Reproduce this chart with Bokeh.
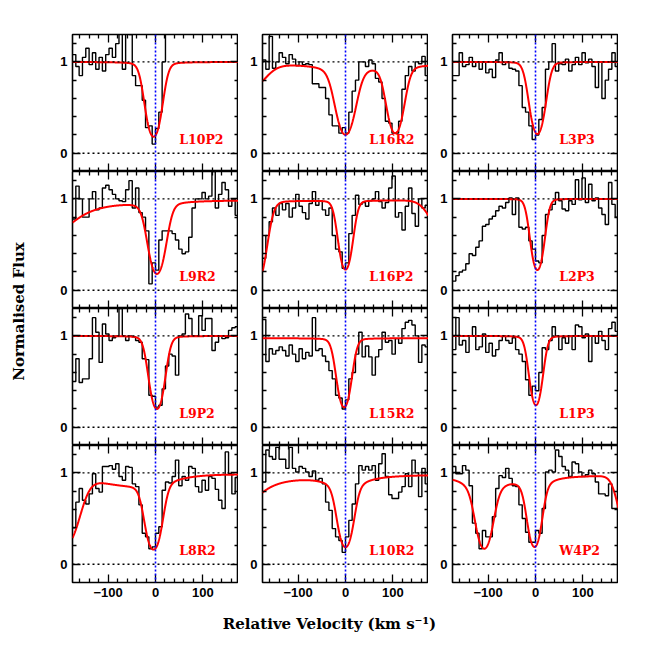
import numpy as np
from bokeh.plotting import figure
from bokeh.models import Range1d, LinearAxis, FixedTicker, Span
from bokeh.layouts import row, column
from bokeh.core.properties import value
from bokeh.embed import file_html
from bokeh.resources import INLINE

# ---------------- data ----------------
PANEL_NAMES = [["L10P2", "L16R2", "L3P3"],
               ["L9R2", "L16P2", "L2P3"],
               ["L9P2", "L15R2", "L1P3"],
               ["L8R2", "L10R2", "W4P2"]]

VEL_START = -175.0      # first bin edge (km/s)
VEL_BIN = 7.0           # bin width (km/s)

FLUX_L10P2 = [1.08, 0.95, 0.85, 1.05, 1.15, 0.97, 1.10, 0.92, 1.05, 0.90,
              1.08, 1.15, 1.05, 1.20, 1.35, 0.92, 1.35, 1.30, 0.85, 0.74,
              0.74, 0.58, 0.28, 0.30, 0.10, 0.27, 0.45, 1.00, 1.40]
FLUX_L16R2 = [1.02, 0.92, 1.28, 0.93, 1.00, 1.10, 1.05, 0.98, 1.08, 1.03,
              0.96, 1.00, 0.97, 0.98, 0.97, 0.76, 0.76, 0.72, 0.72, 0.60,
              0.42, 0.30, 0.30, 0.22, 0.28, 0.22, 0.45, 0.68, 0.80, 1.00,
              1.00, 0.95, 1.02, 0.98, 0.82, 0.78, 0.60, 0.35, 0.33, 0.22,
              0.22, 0.35, 0.70, 0.85, 0.95, 0.90, 1.00, 0.98, 1.06, 0.85]
FLUX_L3P3 = [0.85, 0.85, 1.10, 0.95, 0.97, 1.05, 0.95, 1.00, 0.92, 1.00,
             0.88, 0.92, 0.83, 1.02, 1.10, 0.97, 1.00, 0.93, 0.92, 0.90,
             0.74, 0.50, 0.45, 0.30, 0.15, 0.20, 0.37, 0.50, 0.92, 1.00,
             1.20, 0.90, 0.98, 0.97, 1.03, 0.90, 0.97, 1.05, 0.97, 1.10,
             0.99, 1.03, 0.95, 0.72, 1.00, 0.60, 0.80, 0.92, 1.10, 0.95]
FLUX_L9R2 = [0.78, 1.14, 1.00, 0.80, 0.80, 1.00, 1.08, 0.88, 0.90, 1.12,
             1.15, 1.10, 1.05, 1.00, 0.98, 0.97, 1.10, 1.20, 0.90, 1.12,
             0.85, 0.80, 0.65, 0.07, 0.30, 0.22, 0.55, 0.65, 0.65, 0.65,
             0.62, 0.55, 0.45, 0.40, 0.42, 0.58, 0.90, 1.00, 1.00, 1.07,
             1.00, 1.03, 1.30, 0.90, 1.05, 1.18, 1.10, 0.92, 1.00, 0.82]
FLUX_L16P2 = [0.35, 0.60, 0.75, 0.90, 0.82, 0.95, 0.88, 0.95, 0.80, 0.90,
              1.05, 0.92, 0.85, 0.78, 0.95, 1.08, 0.93, 0.98, 0.88, 0.82,
              0.90, 0.60, 0.45, 0.42, 0.24, 0.30, 0.62, 0.82, 1.04, 0.94,
              0.96, 0.92, 0.98, 1.00, 1.08, 0.97, 0.90, 0.96, 1.12, 1.25,
              0.80, 0.85, 0.66, 0.92, 1.12, 0.84, 0.70, 1.00, 0.90, 0.93]
FLUX_L2P3 = [0.10, 0.16, 0.20, 0.22, 0.29, 0.40, 0.38, 0.47, 0.54, 0.70,
             0.72, 0.78, 0.81, 0.87, 0.92, 0.90, 0.96, 1.01, 0.83, 1.01,
             0.69, 0.67, 0.69, 0.54, 0.45, 0.32, 0.30, 0.60, 0.83, 0.88,
             0.94, 1.07, 0.98, 0.89, 0.87, 0.98, 0.94, 1.21, 0.99, 1.23,
             0.96, 1.16, 0.98, 1.01, 0.90, 0.83, 0.72, 1.18, 0.94, 0.80]
FLUX_L9P2 = [0.50, 0.75, 0.49, 0.53, 0.53, 0.75, 1.20, 1.04, 0.71, 1.13,
             1.02, 0.95, 0.98, 1.00, 1.30, 1.00, 0.95, 1.00, 0.99, 0.95,
             0.93, 0.75, 0.74, 0.35, 0.34, 0.22, 0.24, 0.42, 0.67, 0.80,
             0.78, 0.57, 1.00, 1.02, 1.24, 1.19, 1.00, 1.00, 1.22, 1.06,
             1.19, 1.19, 0.84, 0.93, 1.00, 0.97, 0.98, 1.06, 1.09, 1.10]
FLUX_L15R2 = [1.18, 0.72, 0.86, 0.80, 0.84, 0.88, 0.84, 0.78, 0.90, 0.80,
              0.72, 0.86, 0.75, 0.82, 0.78, 1.20, 0.84, 0.86, 0.78, 0.72,
              0.62, 0.53, 0.35, 0.32, 0.20, 0.30, 0.53, 0.60, 0.80, 1.04,
              0.77, 0.89, 0.77, 0.57, 0.77, 0.85, 1.04, 0.93, 0.95, 0.80,
              0.97, 0.92, 1.08, 1.15, 1.17, 1.12, 1.00, 0.71, 0.90, 0.88]
FLUX_L1P3 = [0.85, 1.20, 0.90, 0.95, 0.82, 1.00, 1.10, 0.85, 0.88, 1.02,
             0.82, 0.92, 0.78, 0.85, 0.95, 1.00, 0.95, 0.92, 0.98, 0.85,
             0.80, 0.72, 0.52, 0.35, 0.45, 0.40, 0.60, 0.87, 0.85, 0.95,
             1.10, 1.00, 0.85, 0.98, 0.92, 1.00, 0.85, 1.12, 1.10, 0.98,
             1.02, 0.72, 1.00, 0.92, 1.05, 0.95, 0.85, 1.08, 1.15, 1.05]
FLUX_L8R2 = [0.40, 0.68, 0.83, 0.70, 0.66, 0.77, 0.99, 0.83, 0.79, 1.07,
             1.07, 1.08, 1.04, 1.10, 0.96, 0.92, 1.07, 1.06, 0.88, 0.85,
             0.65, 0.34, 0.30, 0.17, 0.19, 0.34, 0.41, 0.81, 0.90, 0.89,
             0.96, 1.14, 0.86, 0.96, 0.92, 1.07, 1.05, 0.85, 0.79, 0.92,
             0.81, 0.96, 0.94, 0.82, 0.70, 0.61, 1.23, 0.99, 0.77, 0.95]
FLUX_L10R2 = [0.90, 1.25, 1.18, 1.15, 1.28, 1.15, 1.15, 1.05, 1.28, 1.05,
              1.01, 1.07, 1.05, 1.01, 0.96, 1.02, 0.92, 0.94, 0.88, 0.68,
              0.59, 0.39, 0.30, 0.26, 0.13, 0.30, 0.48, 0.66, 0.88, 1.08,
              1.03, 1.07, 1.03, 1.08, 0.92, 1.10, 1.21, 0.96, 0.76, 0.72,
              0.72, 0.79, 0.85, 0.99, 0.85, 1.14, 1.00, 0.74, 1.05, 0.88]
FLUX_W4P2 = [1.07, 0.99, 0.99, 1.08, 1.03, 0.86, 0.45, 0.34, 0.17, 0.37,
             0.30, 0.30, 0.52, 0.83, 0.97, 0.95, 1.05, 0.94, 0.86, 0.85,
             0.65, 0.50, 0.35, 0.24, 0.24, 0.37, 0.34, 0.61, 1.01, 1.03,
             1.01, 1.25, 1.18, 1.07, 1.03, 0.96, 1.12, 1.10, 1.01, 0.96,
             0.98, 1.03, 0.99, 0.90, 0.77, 0.77, 0.75, 0.88, 0.61, 0.61]

# fitted absorption components: (centre km/s, gaussian tau, b, lorentzian tau, width)
FIT_L10P2 = [(-4, 1.55, 19.0, 0.16, 15)]
FIT_L16R2 = [(-200, 0.31, 39.0, 0.0, 1), (0, 1.17, 23.0, 0.40, 20), (105, 1.28, 20.0, 0.20, 18)]
FIT_L3P3 = [(4, 1.45, 18.5, 0.11, 12)]
FIT_L9R2 = [(-210, 0.0, 1.0, 0.43, 50), (3, 1.39, 20.4, 0.30, 15)]
FIT_L16P2 = [(-195, 3.0, 24.5, 0.05, 40), (0, 1.40, 16.5, 0.07, 15), (210, 0.48, 36.0, 0.0, 1)]
FIT_L2P3 = [(4, 1.45, 16.0, 0.06, 12)]
FIT_L9P2 = [(3, 1.50, 18.0, 0.11, 15)]
FIT_L15R2 = [(-3, 1.40, 17.0, 0.09, 15)]
FIT_L1P3 = [(1, 1.32, 15.5, 0.10, 12)]
FIT_L8R2 = [(-195, 1.66, 35.0, 0.0, 1), (-60, 0.12, 100.0, 0.0, 1), (-4, 1.58, 19.0, 0.15, 25)]
FIT_L10R2 = [(-220, 0.0, 1.0, 0.50, 40), (0, 1.40, 18.0, 0.25, 30)]
FIT_W4P2 = [(-108, 1.14, 19.4, 0.60, 20), (-2, 1.27, 16.3, 0.35, 18), (200, 1.22, 25.3, 0.0, 1)]

CONT = {"L10P2": 1.0, "L16R2": 0.975, "L3P3": 1.0, "L9R2": 0.99, "L16P2": 0.985,
        "L2P3": 1.0, "L9P2": 1.0, "L15R2": 0.975, "L1P3": 1.0, "L8R2": 0.985,
        "L10R2": 0.985, "W4P2": 0.975}

FLUX = {"L10P2": FLUX_L10P2, "L16R2": FLUX_L16R2, "L3P3": FLUX_L3P3,
        "L9R2": FLUX_L9R2, "L16P2": FLUX_L16P2, "L2P3": FLUX_L2P3,
        "L9P2": FLUX_L9P2, "L15R2": FLUX_L15R2, "L1P3": FLUX_L1P3,
        "L8R2": FLUX_L8R2, "L10R2": FLUX_L10R2, "W4P2": FLUX_W4P2}
FITS = {"L10P2": FIT_L10P2, "L16R2": FIT_L16R2, "L3P3": FIT_L3P3,
        "L9R2": FIT_L9R2, "L16P2": FIT_L16P2, "L2P3": FIT_L2P3,
        "L9P2": FIT_L9P2, "L15R2": FIT_L15R2, "L1P3": FIT_L1P3,
        "L8R2": FIT_L8R2, "L10R2": FIT_L10R2, "W4P2": FIT_W4P2}

X_TICKS = [-100, 0, 100]
X_MINOR = [-160, -140, -120, -80, -60, -40, -20, 20, 40, 60, 80, 120, 140, 160]
X_LABELS = {-100: "\u2212100", 0: "0", 100: "100"}
Y_TICKS = [0, 1]
Y_MINOR = [0.2, 0.4, 0.6, 0.8, 1.2]

# ---------------- layout constants ----------------
XMIN, XMAX = -175, 175
YMIN, YMAX = -0.2, 1.3
FRAME_W, FRAME_H = 166, 137
GAP = 24
TOP_PAD = 34
BOTTOM_PAD = 32
TITLE_W = 48
TICK_FONT = "Liberation Sans"
TITLE_FONT = "DejaVu Serif"


def model(v, cont, comps):
    tau = np.zeros_like(v)
    for c, tg, b, tl, w in comps:
        d = v - c
        tau += tg * np.exp(-(d / b) ** 2) + tl / (1.0 + (d / w) ** 2)
    return cont * np.exp(-tau)


def make_axis(fixed, ticker, overrides=None):
    kw = dict(ticker=ticker)
    if fixed is not None:
        kw["fixed_location"] = fixed
    if overrides:
        kw["major_label_overrides"] = overrides
    ax = LinearAxis(**kw)
    ax.axis_line_color = None
    ax.major_tick_in = 8
    ax.major_tick_out = 0
    ax.minor_tick_in = 4
    ax.minor_tick_out = 0
    ax.major_tick_line_color = "black"
    ax.minor_tick_line_color = "black"
    ax.major_tick_line_width = 1.3
    ax.minor_tick_line_width = 1.3
    ax.major_label_text_font = TICK_FONT
    ax.major_label_text_font_style = "bold"
    ax.major_label_text_font_size = "13px"
    ax.major_label_text_color = "black"
    ax.major_label_standoff = 5
    if fixed is not None:
        ax.major_label_text_alpha = 0
    return ax


def make_panel(name, r, c):
    top = TOP_PAD if r == 0 else 0
    bottom = BOTTOM_PAD if r == 3 else 0
    p = figure(width=GAP + FRAME_W, height=FRAME_H + top + bottom,
               x_range=Range1d(XMIN, XMAX), y_range=Range1d(YMIN, YMAX),
               output_backend="svg", toolbar_location=None, tools="",
               x_axis_location=None, y_axis_location=None,
               min_border_left=GAP, min_border_right=0,
               min_border_top=top, min_border_bottom=bottom)
    p.grid.visible = False
    p.outline_line_color = "black"
    p.outline_line_width = 1.6
    p.background_fill_color = "white"
    p.border_fill_color = "white"

    xt = lambda: FixedTicker(ticks=X_TICKS, minor_ticks=X_MINOR)
    yt = lambda: FixedTicker(ticks=Y_TICKS, minor_ticks=Y_MINOR)
    p.add_layout(make_axis(None if r == 3 else YMIN, xt(), X_LABELS), "below")
    p.add_layout(make_axis(YMAX, xt()), "above")
    p.add_layout(make_axis(None, yt()), "left")
    p.add_layout(make_axis(XMAX, yt()), "right")

    for yl in (0, 1):
        p.add_layout(Span(location=yl, dimension="width", line_color="black",
                          line_dash="2 3", line_width=1.3))
    p.add_layout(Span(location=0, dimension="height", line_color="#0000ff",
                      line_dash="2 2", line_width=1.6))

    flux = FLUX[name]
    edges = VEL_START + VEL_BIN * np.arange(len(flux) + 1)
    p.step(x=edges, y=list(flux) + [flux[-1]], mode="after",
           line_color="black", line_width=1.4)

    v = np.linspace(XMIN, XMAX, 701)
    p.line(v, model(v, CONT[name], FITS[name]), line_color="#ff0000", line_width=2)

    p.text(x=[50], y=[0.15], text=[name], text_color="#ff0000",
           text_font=value(TITLE_FONT), text_font_style="bold",
           text_font_size="12.5px", text_baseline="middle", text_align="left")
    return p


rows = []
for r, names in enumerate(PANEL_NAMES):
    rows.append(row(*[make_panel(n, r, c) for c, n in enumerate(names)]))

grid_h = TOP_PAD + 4 * FRAME_H + BOTTOM_PAD
total_w = TITLE_W + 3 * (GAP + FRAME_W)

ylab = figure(width=TITLE_W, height=grid_h, x_range=Range1d(0, TITLE_W),
              y_range=Range1d(0, grid_h), output_backend="svg",
              toolbar_location=None, tools="", x_axis_location=None,
              y_axis_location=None, min_border=0, outline_line_color=None)
ylab.grid.visible = False
ylab.text(x=[18], y=[grid_h - 311], text=["Normalised Flux"],
          angle=np.pi / 2, text_font=value(TITLE_FONT), text_font_style="bold",
          text_font_size="15px", text_align="center", text_baseline="middle",
          text_color="black")

xlab_h = 30
xlab = figure(width=total_w, height=xlab_h, x_range=Range1d(0, total_w),
              y_range=Range1d(0, xlab_h), output_backend="svg",
              toolbar_location=None, tools="", x_axis_location=None,
              y_axis_location=None, min_border=0, outline_line_color=None)
xlab.grid.visible = False
xlab.text(x=[329], y=[xlab_h - 9],
          text=["Relative Velocity (km s\u207b\u00b9)"],
          text_font=value(TITLE_FONT), text_font_style="bold",
          text_font_size="15px", text_align="center", text_baseline="middle",
          text_color="black")

layout = column(row(ylab, column(*rows)), xlab)

open("out.html", "w").write(file_html(layout, INLINE))
